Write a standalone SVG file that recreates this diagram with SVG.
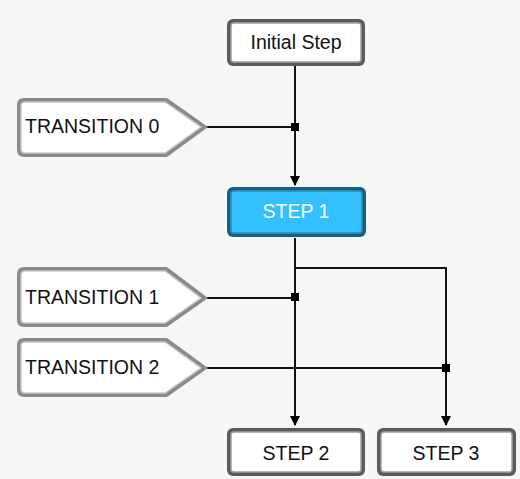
<svg xmlns="http://www.w3.org/2000/svg" width="520" height="479" viewBox="0 0 520 479">
  <defs>
    <style>
      .bg { fill: #f6f6f6; }
      .step-outer { fill: #5a5a5a; }
      .step-inner { fill: #ffffff; stroke: #a0a0a0; stroke-width: 1.5; }
      .active-outer { fill: #1a5f80; }
      .active-inner { fill: #33c0ff; stroke: #2a8fc0; stroke-width: 1.5; }
      .trans-outer { fill: #8a8a8a; }
      .trans-inner { fill: #ffffff; stroke: #c8c8c8; stroke-width: 1.5; }
      .label { font-family: "Liberation Sans", Arial, sans-serif; font-size: 19.5px; fill: #111; }
      .label-active { font-family: "Liberation Sans", Arial, sans-serif; font-size: 19.5px; fill: #ffffff; }
      .wire { fill: none; stroke: #111; stroke-width: 2; }
      .dot { fill: #000; }
    </style>
    <marker id="arrow" viewBox="0 0 10 10" refX="9" refY="5" markerWidth="5" markerHeight="5" orient="auto" markerUnits="strokeWidth">
      <path d="M0,0 L10,5 L0,10 z" fill="#000"/>
    </marker>
  </defs>

  <rect class="bg" x="0" y="0" width="520" height="479"/>

  <!-- connectors -->
  <g id="connectors">
    <path class="wire" d="M295,66 V185" marker-end="url(#arrow)"/>
    <path class="wire" d="M207,127 H295"/>
    <path class="wire" d="M295,238 V425" marker-end="url(#arrow)"/>
    <path class="wire" d="M295,268 H446 V425" marker-end="url(#arrow)"/>
    <path class="wire" d="M207,298 H295"/>
    <path class="wire" d="M207,368 H446"/>
    <rect class="dot" x="291" y="123" width="8" height="8"/>
    <rect class="dot" x="291" y="293" width="8" height="8"/>
    <rect class="dot" x="442" y="364" width="8" height="8"/>
  </g>

  <g id="initial-step">
    <rect class="step-outer" x="227" y="19" width="138" height="47" rx="6"/>
    <rect class="step-inner" x="231" y="23" width="130" height="39" rx="3"/>
    <text class="label" x="296" y="49" text-anchor="middle">Initial Step</text>
  </g>

  <g id="transition-0">
    <path class="trans-outer" d="M24,98 H167 L208,127 L167,157 H24 Q17,157 17,150 V105 Q17,98 24,98 z"/>
    <path class="trans-inner" d="M25,102 H165 L201,127 L165,153 H25 Q21,153 21,149 V106 Q21,102 25,102 z"/>
    <text class="label" x="25" y="133">TRANSITION 0</text>
  </g>

  <g id="step-1">
    <rect class="active-outer" x="227" y="187" width="139" height="50" rx="6"/>
    <rect class="active-inner" x="231" y="191" width="131" height="42" rx="3"/>
    <text class="label-active" x="296" y="218" text-anchor="middle">STEP 1</text>
  </g>

  <g id="transition-1">
    <path class="trans-outer" d="M24,267 H167 L208,298 L167,327 H24 Q17,327 17,320 V274 Q17,267 24,267 z"/>
    <path class="trans-inner" d="M25,271 H165 L201,298 L165,323 H25 Q21,323 21,319 V275 Q21,271 25,271 z"/>
    <text class="label" x="25" y="304">TRANSITION 1</text>
  </g>

  <g id="transition-2">
    <path class="trans-outer" d="M24,338 H167 L208,368 L167,397 H24 Q17,397 17,390 V345 Q17,338 24,338 z"/>
    <path class="trans-inner" d="M25,342 H165 L201,368 L165,393 H25 Q21,393 21,389 V346 Q21,342 25,342 z"/>
    <text class="label" x="25" y="374">TRANSITION 2</text>
  </g>

  <g id="step-2">
    <rect class="step-outer" x="227" y="428" width="138" height="48" rx="6"/>
    <rect class="step-inner" x="231" y="432" width="130" height="40" rx="3"/>
    <text class="label" x="296" y="460" text-anchor="middle">STEP 2</text>
  </g>

  <g id="step-3">
    <rect class="step-outer" x="377" y="428" width="139" height="48" rx="6"/>
    <rect class="step-inner" x="381" y="432" width="131" height="40" rx="3"/>
    <text class="label" x="446" y="460" text-anchor="middle">STEP 3</text>
  </g>
</svg>
